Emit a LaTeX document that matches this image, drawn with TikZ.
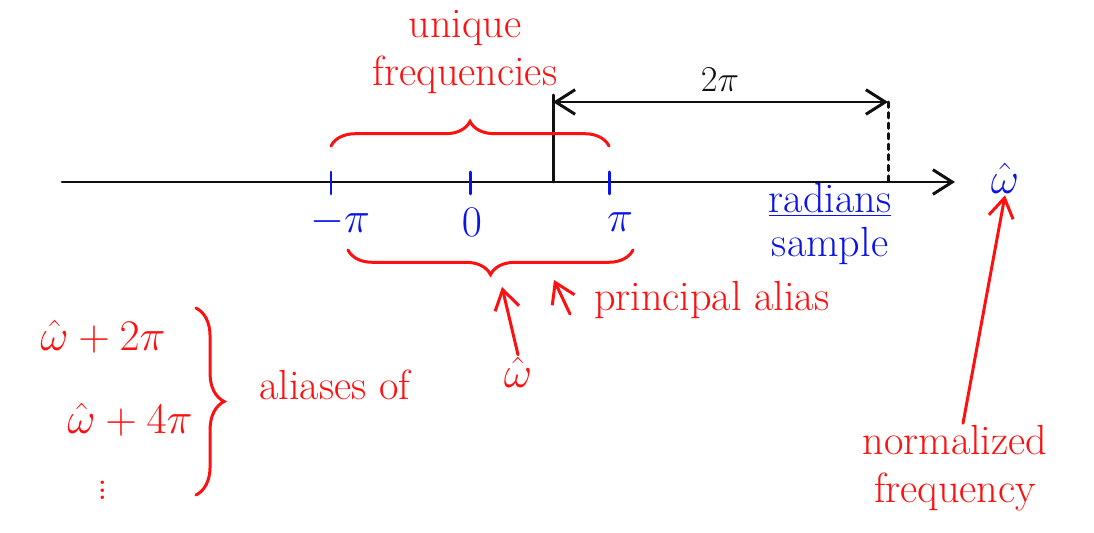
\documentclass[tikz,border=0pt]{standalone}
\usepackage{tikz}
\usetikzlibrary{arrows.meta,decorations.pathreplacing,positioning}
\definecolor{inkred}{HTML}{FF1010}
\definecolor{inkblue}{HTML}{0A14E6}
\definecolor{inkblack}{HTML}{111111}
\tikzset{
  pen/.style={line width=1.7pt, line cap=round},
  barb/.style={-{Straight Barb[length=11pt,width=14pt,line width=1.7pt]}},
  redlabel/.style={text=inkred, font=\fontsize{24}{27}\selectfont, inner sep=1pt},
  bluelabel/.style={text=inkblue, font=\fontsize{24}{27}\selectfont, inner sep=1pt},
  blacklabel/.style={text=inkblack, font=\fontsize{22}{26}\selectfont, inner sep=1pt},
  curly/.style={pen, inkred, decorate, decoration={brace, amplitude=#1}}
}

\begin{document}
\begin{tikzpicture}[x=0.02cm, y=-0.02cm]
  \useasboundingbox (0,0) rectangle (1094,533);

  % frequency axis
  \coordinate (axisL) at (62,182);
  \coordinate (axisR) at (955,182);
  \draw[pen, inkblack, barb] (axisL) -- (axisR);
  \foreach \x/\n in {331/mpi, 470/zero, 609/pi}{
    \coordinate (t\n) at (\x,182);
    \draw[pen, inkblue] (\x,172) -- (\x,194);
  }
  \node[bluelabel] (lmpi) at (340,222) {$-\pi$};
  \node[bluelabel] (lzero) at (472,222) {$0$};
  \node[bluelabel] (lpi) at (620,222) {$\pi$};
  \node[bluelabel] (what) at (1005,178) {$\hat{\omega}$};
  \node[bluelabel, align=center] (units) at (830,224) {\underline{radians}\\[-2pt]sample};

  % one period
  \coordinate (mark) at (553,182);
  \coordinate (markT) at (553,95);
  \coordinate (spanL) at (553,102);
  \coordinate (spanR) at (888,102);
  \coordinate (spanB) at (888,182);
  \draw[pen, inkblack] (mark) -- (markT);
  \draw[pen, inkblack, {Straight Barb[length=11pt,width=14pt,line width=1.7pt]}-{Straight Barb[length=11pt,width=14pt,line width=1.7pt]}] (spanL) -- (spanR);
  \draw[pen, inkblack, dashed] (spanR) -- (spanB);
  \node[blacklabel] (twopi) at (720,80) {$2\pi$};

  % unique frequencies
  \draw[curly=14pt] (331,146) -- (609,146);
  \node[redlabel, align=center] (unique) at (465,52) {unique\\frequencies};

  % principal alias
  \draw[curly=14pt] (633,250) -- (348,250);
  \coordinate (palias) at (502,287);
  \coordinate (palias2) at (554,280);
  \coordinate (pfoot) at (570,314);
  \node[redlabel, anchor=west] (principal) at (592,300) {principal alias};
  \node[redlabel] (hatw) at (518,372) {$\hat{\omega}$};
  \draw[pen, inkred, barb] (hatw.north) -- (palias);
  \draw[pen, inkred, barb] (pfoot) -- (palias2);

  % aliases
  \node[redlabel] (alias2) at (103,337) {$\hat{\omega}+2\pi$};
  \node[redlabel] (alias4) at (130,420) {$\hat{\omega}+4\pi$};
  \node[redlabel] (adots) at (103,485) {$\vdots$};
  \draw[curly=16pt] (196,308) -- (196,495);
  \node[redlabel] (aliases) at (335,385) {aliases of};

  % normalized frequency
  \node[redlabel, align=center] (normfreq) at (955,468) {normalized\\frequency};
  \draw[pen, inkred, barb] (normfreq.north) ++(8,0) coordinate (nfoot) (nfoot) -- (what.south);
\end{tikzpicture}
\end{document}
